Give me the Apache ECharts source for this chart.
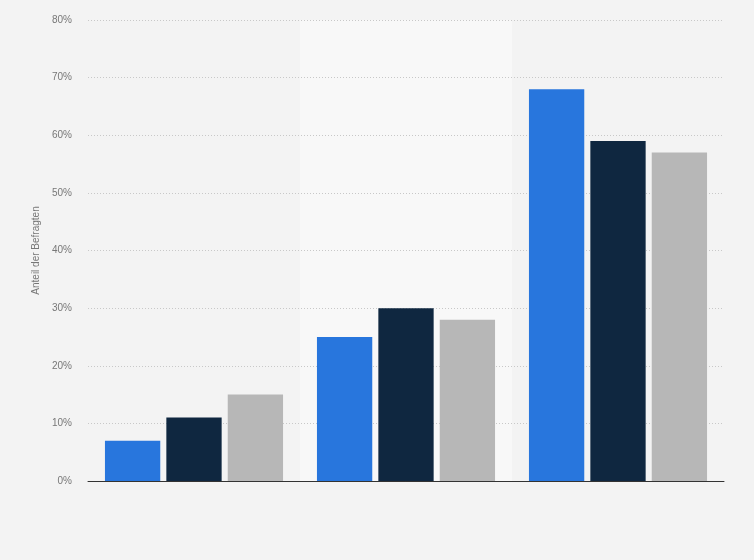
<!DOCTYPE html>
<html><head><meta charset="utf-8">
<script src="https://cdn.jsdelivr.net/npm/echarts@6/dist/echarts.min.js"></script>
<style>html,body{margin:0;padding:0;background:#f3f3f3;}#c{width:754px;height:560px;}</style>
</head><body><div id="c"></div>
<script>
const categories = ['A', 'B', 'C'];
const series1 = [7, 25, 68];
const series2 = [11, 30, 59];
const series3 = [15, 28, 57];
const yTicks = [0, 10, 20, 30, 40, 50, 60, 70, 80];
const colors = ['#2876dd', '#0f2740', '#b7b7b7'];

const chart = echarts.init(document.getElementById('c'), null, {renderer: 'canvas'});
const mk = (name, data, i) => ({
  name, type: 'bar', data, barGap: '11%', barCategoryGap: '16%',
  itemStyle: {color: colors[i]}
});
chart.setOption({
  backgroundColor: '#f3f3f3',
  animation: false,
  grid: {left: 88, right: 30, top: 20, bottom: 79, containLabel: false},
  xAxis: {
    type: 'category', data: categories, z: 0,
    axisLine: {lineStyle: {color: '#333', width: 1}},
    axisTick: {show: false}, axisLabel: {show: false},
    splitArea: {show: true, areaStyle: {color: ['rgba(0,0,0,0)', '#f8f8f8', 'rgba(0,0,0,0)']}}
  },
  yAxis: {
    type: 'value', z: 1, min: yTicks[0], max: yTicks[yTicks.length - 1], interval: 10,
    name: 'Anteil der Befragten', nameLocation: 'middle', nameGap: 41,
    nameTextStyle: {color: '#777', fontSize: 10, fontFamily: 'Liberation Sans'},
    axisLine: {show: false}, axisTick: {show: false},
    axisLabel: {formatter: '{value}%', color: '#777', fontSize: 10, fontFamily: 'Liberation Sans', margin: 16},
    splitLine: {showMinLine: false, lineStyle: {color: '#c8c8c8', type: [1, 2]}}
  },
  series: [mk('S1', series1, 0), mk('S2', series2, 1), mk('S3', series3, 2)]
});
</script></body></html>
